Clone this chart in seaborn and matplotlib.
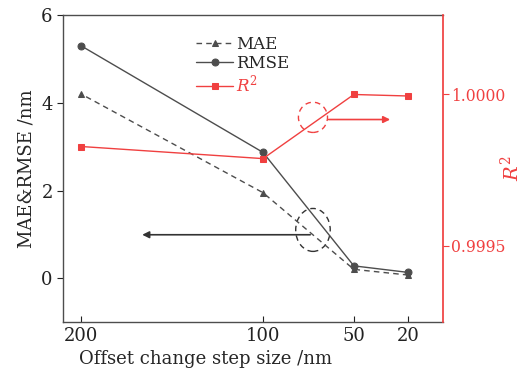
from matplotlib import pyplot as plt
from matplotlib.patches import Ellipse
import seaborn as sns
import pandas as pd

# data
step_size = [200, 100, 50, 20]
mae = [4.2, 1.95, 0.2, 0.07]
rmse = [5.3, 2.87, 0.28, 0.13]
r2 = [0.999828, 0.999788, 1.0000, 0.999995]
x_ticks = [200, 100, 50, 20]

gray = '#4d4d4d'
red = '#f04040'

sns.set_theme(style='white')
plt.rcParams['font.family'] = ['DejaVu Serif']
plt.rcParams['mathtext.fontset'] = 'dejavuserif'

df = pd.DataFrame({'step': step_size, 'MAE': mae, 'RMSE': rmse, 'R2': r2})

fig, ax = plt.subplots(figsize=(5.26, 3.81), dpi=100)
fig.subplots_adjust(left=0.12, right=0.842, top=0.96, bottom=0.155)
ax2 = ax.twinx()

sns.lineplot(ax=ax, data=df, x='step', y='MAE', color=gray, marker='^',
             markersize=5, linewidth=1, linestyle=(0, (4, 3)),
             markeredgecolor=gray, label='MAE', legend=False)
sns.lineplot(ax=ax, data=df, x='step', y='RMSE', color=gray, marker='o',
             markersize=5, linewidth=1, markeredgecolor=gray,
             label='RMSE', legend=False)
sns.lineplot(ax=ax2, data=df, x='step', y='R2', color=red, marker='s',
             markersize=4.5, linewidth=1, markeredgecolor=red,
             label='$R^2$', legend=False)

ax.set_xlim(210, 1)
ax.set_ylim(-1, 6)
ax.set_xticks(x_ticks)
ax.set_xticklabels([str(v) for v in x_ticks])
ax.set_yticks([0, 2, 4, 6])
ax2.set_ylim(0.999248, 1.000262)
ax2.set_yticks([0.9995, 1.0])
ax2.set_yticklabels(['0.9995', '1.0000'])

ax.set_xlabel('Offset change step size /nm', fontsize=13)
ax.xaxis.set_label_coords(0.376, -0.09)
ax.set_ylabel('MAE&RMSE /nm', fontsize=13)
ax2.set_ylabel('$R^2$', fontsize=14, color=red, rotation=90)
ax2.yaxis.set_label_coords(1.15, 0.5)

ax.tick_params(axis='y', direction='out', length=4, width=0.8, colors='#222222',
               labelsize=13, left=True)
ax.tick_params(axis='x', direction='in', length=4, width=0.8, colors='#222222',
               labelsize=13, bottom=True)
ax2.tick_params(axis='y', direction='out', length=4, width=0.8, colors=red,
                labelsize=11.2, right=True, pad=2)

for s in ['left', 'bottom', 'top']:
    ax.spines[s].set_color(gray)
    ax.spines[s].set_linewidth(1)
ax2.spines['right'].set_color(red)
for s in ['left', 'bottom', 'top']:
    ax2.spines[s].set_visible(False)
ax.spines['right'].set_visible(False)

# annotations: dashed circles and arrows
ax.add_patch(Ellipse((72.5, 1.1), 19, 0.98, fill=False, linestyle=(0, (4, 3)),
                     edgecolor='#333333', linewidth=1))
ax.annotate('', xy=(168, 0.99), xytext=(72.5, 0.99),
            arrowprops=dict(arrowstyle='-|>', color='#333333', lw=1.2,
                            mutation_scale=10))
ax.add_patch(Ellipse((72.5, 3.67), 16, 0.69, fill=False, linestyle=(0, (4, 3)),
                     edgecolor=red, linewidth=1))
ax.annotate('', xy=(28.5, 3.62), xytext=(65.4, 3.62),
            arrowprops=dict(arrowstyle='-|>', color=red, lw=1.2,
                            mutation_scale=10))

h1, l1 = ax.get_legend_handles_labels()
h2, l2 = ax2.get_legend_handles_labels()
leg = ax.legend(h1 + h2, l1 + l2, loc='upper left', bbox_to_anchor=(0.32, 0.97),
                frameon=False, fontsize=12, handlelength=2.2, handletextpad=0.2,
                labelspacing=0.1, borderpad=0.2)
leg.get_texts()[2].set_color(red)
leg.get_texts()[2].set_fontstyle('italic')

fig.savefig('out.png', dpi=100)
